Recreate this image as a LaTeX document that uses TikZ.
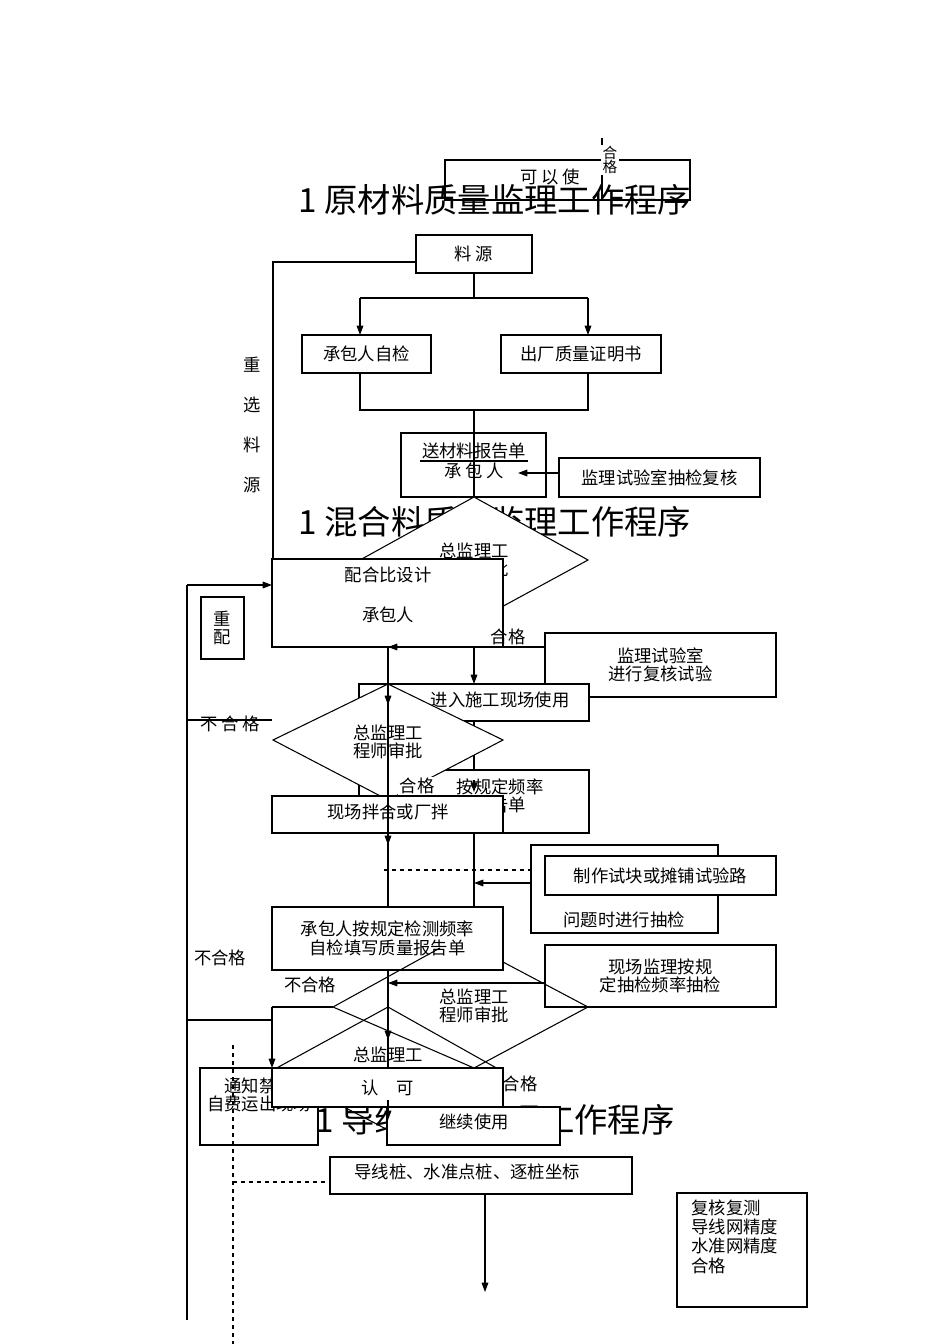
\documentclass[tikz,border=0pt]{standalone}
\usepackage{fontspec}
\setmainfont{Noto Sans CJK SC}
\usetikzlibrary{arrows.meta,calc}
\tikzset{
	bx/.style = {draw=black, fill=white, line width=0.8pt, inner sep=0pt},
	lbl/.style = {align=center, inner sep=1pt, font=\fontsize{13}{14}\selectfont},
	ttl/.style = {inner sep=0pt, font=\fontsize{25}{26}\selectfont},
	ln/.style = {line width=0.8pt},
	ar/.style = {ln, -{Triangle[length=7pt,width=5pt]}},
	dsh/.style = {ln, dashed}
}
\newcommand{\boxat}[5]{\draw[bx] (#2,#3) rectangle (#4,#5); \coordinate (#1) at ($(#2,#3)!0.5!(#4,#5)$);}
\begin{document}
\begin{tikzpicture}[x=0.75pt,y=-0.75pt]
\useasboundingbox (0,0) rectangle (950,1344);
% top
\boxat{use}{445}{160}{690}{200}
\node[lbl] (usetxt) at (550,177) {可 以 使};
\draw[ln] (602,138) -- (602,200);
\node[lbl, fill=white, font=\fontsize{11}{11}\selectfont] (ok0) at (610,160) {合\\格};
\node[ttl] (t1) at (495,200) {1 原材料质量监理工作程序};
% source
\boxat{src}{416}{235}{532}{273}
\node[lbl] at (src) {料 源};
\coordinate (re) at (273,560);
\draw[ln] (416,262) -- (273,262) -- (re);
\foreach \t [count=\i] in {重,选,料,源}
	\node[lbl] (r\i) at (252,325+40*\i) {\t};
\draw[ln] (474,273) -- (474,298);
\draw[ln] (360,298) -- (588,298);
\draw[ar] (360,298) -- (360,335);
\draw[ar] (588,298) -- (588,335);
\boxat{self}{302}{335}{431}{373}
\node[lbl] at (self) {承包人自检};
\boxat{cert}{501}{335}{661}{373}
\node[lbl] at (cert) {出厂质量证明书};
\draw[ln] (360,373) -- (360,410) -- (588,410) -- (588,373);
\boxat{rep}{401}{433}{546}{497}
\node[lbl] at (474,451) {送材料报告单};
\node[lbl] at (474,471) {承 包 人};
\draw[ln] (420,461) -- (528,461);
\draw[ln] (474,410) -- (474,497);
\boxat{lab}{559}{458}{760}{497}
\node[lbl] at (lab) {监理试验室抽检复核};
\draw[ar] (559,473) -- (518,473);
% second part
\node[ttl] (t2) at (495,522) {1 混合料质量监理工作程序};
\draw[bx] (474,497) -- (588,560) -- (474,622) -- (360,560) -- cycle;
\node[lbl] (d1) at (474,560) {总监理工\\程师审批};
\boxat{mix}{272}{559}{503}{647}
\node[lbl] at (388,575) {配合比设计};
\node[lbl] at (388,615) {承包人};
\node[lbl] (ok1) at (508,637) {合格};
\draw[ln] (187,1320) -- (187,585);
\draw[ar] (187,585) -- (272,585);
\boxat{redo}{201}{597}{244}{659}
\node[lbl] at (redo) {重\\配};
\boxat{lab2}{545}{633}{776}{697}
\node[lbl] at (lab2) {监理试验室\\进行复核试验};
\draw[ar] (545,647) -- (388,647);
\draw[ar] (474,647) -- (474,684);
\boxat{enter}{359}{684}{589}{721}
\node[lbl] at (500,700) {进入施工现场使用};
\draw[ln] (187,720) -- (272,720);
\node[lbl] (ng1) at (230,724) {不 合 格};
\draw[ln] (474,721) -- (474,770);
\boxat{freq}{359}{770}{589}{833}
\node[lbl] at (500,796) {按规定频率\\报告单};
\draw[bx] (388,684) -- (503,740) -- (388,800) -- (273,740) -- cycle;
\node[lbl] (d2) at (388,742) {总监理工\\程师审批};
\draw[ar] (474,780) -- (474,792);
\boxat{site}{272}{796}{503}{833}
\node[lbl] at (388,812) {现场拌合或厂拌};
\node[lbl, fill=white] (ok2) at (417,786) {合格};
\draw[ln] (388,647) -- (388,1107);
\draw[ar] (388,650) -- (388,705);
\draw[ar] (388,800) -- (388,845);
\draw[ln] (474,833) -- (474,907);
\draw[dsh] (384,870) -- (545,870);
\boxat{spot}{531}{845}{718}{933}
\node[lbl] at (624,920) {问题时进行抽检};
\boxat{trial}{545}{856}{776}{895}
\node[lbl] at (trial) {制作试块或摊铺试验路};
\draw[ar] (531,883) -- (474,883);
\boxat{selfrep}{272}{907}{503}{970}
\node[lbl] at (selfrep) {承包人按规定检测频率\\自检填写质量报告单};
\node[lbl] (ng2) at (220,958) {不合格};
\node[lbl] (ng3) at (310,985) {不合格};
\boxat{sup}{545}{945}{776}{1007}
\node[lbl] at (sup) {现场监理按规\\定抽检频率抽检};
\draw[ar] (545,983) -- (388,983);
\draw[ln] (503,962) -- (588,1007) -- (474,1068) -- (333,1007) -- (440,948);
\node[lbl] (d3) at (474,1006) {总监理工\\程师审批};
\draw[ln] (187,1020) -- (272,1020);
\draw[ar] (272,1007) -- (272,1068);
\draw[ln] (272,1007) -- (333,1007);
\draw[ar] (388,1010) -- (388,1040);
\draw[ln] (388,1007) -- (500,1070) -- (388,1130) -- (273,1070) -- cycle;
\node[lbl] (d4) at (388,1055) {总监理工};
\node[ttl] (t3) at (495,1120) {1 导线复测监理工作程序};
\boxat{stop}{200}{1068}{318}{1145}
\node[lbl] at (259,1095) {通知禁止\\自费运出现场};
\boxat{ok}{272}{1068}{503}{1107}
\node[lbl] at (ok) {认\quad 可};
\node[lbl] (ok3) at (520,1084) {合格};
\boxat{cont}{387}{1107}{560}{1145}
\node[lbl] at (474,1122) {继续使用};
\draw[ar] (388,1100) -- (388,1120);
\draw[dsh] (233,1045) -- (233,1344);
\draw[dsh] (233,1182) -- (330,1182);
\boxat{pile}{330}{1157}{632}{1194}
\node[lbl] at (467,1172) {导线桩、水准点桩、逐桩坐标};
\draw[ar] (485,1194) -- (485,1292);
\boxat{chk}{677}{1193}{807}{1307}
\node[lbl, align=left, anchor=north west, font=\fontsize{13}{14.5}\selectfont] at (690,1198) {复核复测\\导线网精度\\水准网精度\\合格};
\end{tikzpicture}
\end{document}
